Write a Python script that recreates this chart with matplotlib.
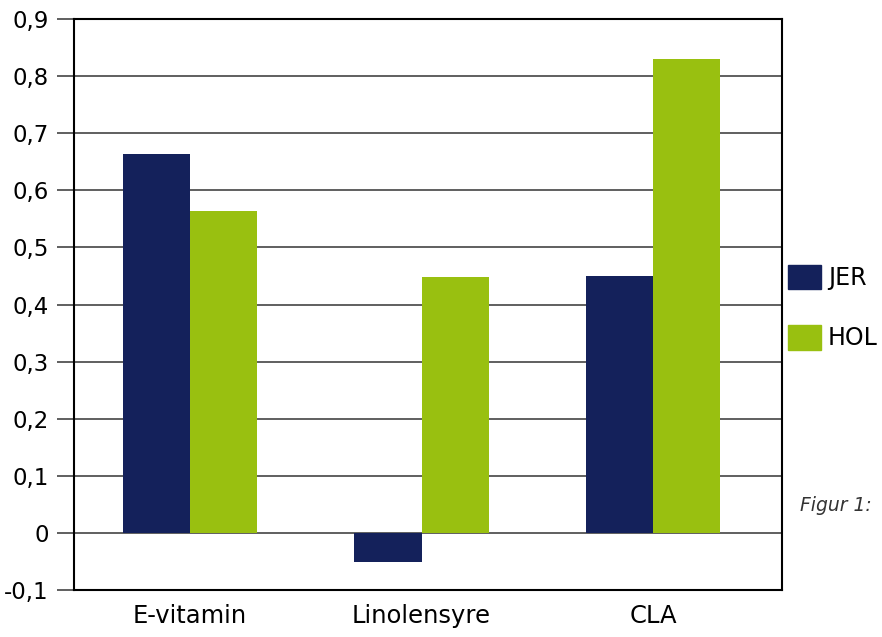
import matplotlib

matplotlib.use("Agg")
import matplotlib.pyplot as plt
import numpy as np
from matplotlib.patches import Patch

categories = ["E-vitamin", "Linolensyre", "CLA"]
jer = [0.664, -0.051, 0.450]
hol = [0.564, 0.448, 0.830]
yticks = [-0.1, 0, 0.1, 0.2, 0.3, 0.4, 0.5, 0.6, 0.7, 0.8, 0.9]
ytick_labels = ["-0,1", "0", "0,1", "0,2", "0,3", "0,4", "0,5", "0,6", "0,7", "0,8", "0,9"]

JER_C = "#14215b"
HOL_C = "#99c010"

plt.rcParams["font.family"] = ["DejaVu Sans"]

fig = plt.figure(figsize=(8.82, 6.37), dpi=100)
ax = fig.add_axes([0.0839, 0.0738, 0.8027, 0.8962])

x = np.arange(len(categories))
w = 0.29
ax.bar(x - w / 2, jer, width=w, color=JER_C, zorder=3)
ax.bar(x + w / 2, hol, width=w, color=HOL_C, zorder=3)

ax.set_xlim(-0.5, 2.556)
ax.set_ylim(-0.1, 0.9)
ax.set_yticks(yticks)
ax.set_yticklabels(ytick_labels, fontsize=16.5)
ax.set_xticks(x)
ax.set_xticklabels(categories, fontsize=17.5)
ax.tick_params(axis="x", length=0, pad=10)
ax.tick_params(axis="y", length=12, width=1.2, color="#444444", pad=6)
ax.yaxis.grid(True, color="#444444", lw=1.2, zorder=1)
for s in ax.spines.values():
    s.set_color("black")
    s.set_linewidth(1.5)

handles = [Patch(color=JER_C), Patch(color=HOL_C)]
fig.legend(handles, ["JER", "HOL"], loc="center left",
           bbox_to_anchor=(0.8934, 0.517), frameon=False, fontsize=17,
           borderpad=0, borderaxespad=0,
           handlelength=1.4, handleheight=1.2, labelspacing=1.5,
           handletextpad=0.3)

fig.text(0.948, 0.207, "Figur 1:", ha="center", va="center",
         fontsize=13.5, style="italic", color="#333333")

fig.savefig("out.png", dpi=100)
